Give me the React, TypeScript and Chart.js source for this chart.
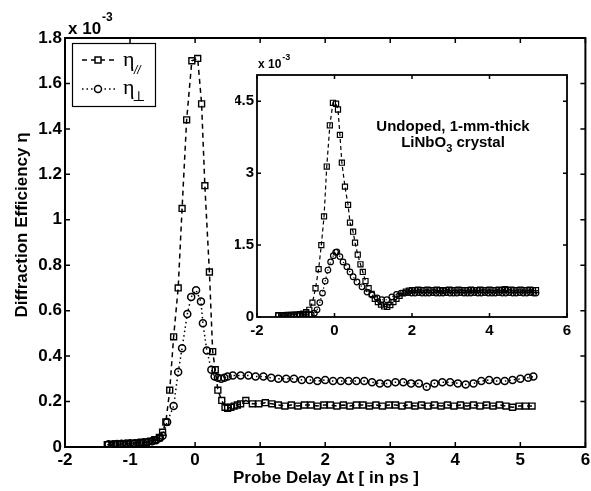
import React, { useEffect, useRef } from 'react';
import { Chart, registerables } from 'chart.js';
Chart.register(...registerables);

// ---------- main panel data (η in units of 1e-3, delay in ps) ----------
const parDelay = [-1.35, -1.28, -1.22, -1.15, -1.08, -1.02, -0.95, -0.88, -0.82, -0.75, -0.68, -0.62, -0.55, -0.5, -0.45, -0.39, -0.33, -0.26, -0.2, -0.13, -0.05, 0.04, 0.1, 0.15, 0.22, 0.27, 0.31, 0.35, 0.41, 0.46, 0.5, 0.55, 0.6, 0.65, 0.7, 0.78, 0.88, 0.98, 1.08, 1.18, 1.28, 1.38, 1.48, 1.58, 1.68, 1.78, 1.88, 1.98, 2.08, 2.18, 2.28, 2.38, 2.48, 2.58, 2.68, 2.78, 2.88, 2.98, 3.08, 3.18, 3.28, 3.38, 3.48, 3.58, 3.68, 3.78, 3.88, 3.98, 4.08, 4.18, 4.28, 4.38, 4.48, 4.58, 4.68, 4.78, 4.88, 4.98, 5.08, 5.18];
const parEta = [0.01, 0.01, 0.012, 0.012, 0.013, 0.014, 0.016, 0.018, 0.02, 0.022, 0.026, 0.032, 0.042, 0.065, 0.11, 0.25, 0.485, 0.7, 1.05, 1.44, 1.7, 1.71, 1.51, 1.15, 0.77, 0.42, 0.34, 0.25, 0.205, 0.175, 0.17, 0.175, 0.18, 0.185, 0.19, 0.205, 0.19, 0.19, 0.195, 0.19, 0.185, 0.18, 0.185, 0.18, 0.185, 0.185, 0.18, 0.185, 0.185, 0.18, 0.185, 0.18, 0.185, 0.185, 0.18, 0.185, 0.18, 0.185, 0.185, 0.18, 0.185, 0.18, 0.185, 0.18, 0.185, 0.18, 0.185, 0.18, 0.185, 0.18, 0.185, 0.18, 0.185, 0.18, 0.185, 0.18, 0.175, 0.18, 0.18, 0.18];

const perpDelay = [-1.33, -1.26, -1.2, -1.13, -1.06, -1.0, -0.93, -0.86, -0.8, -0.73, -0.66, -0.6, -0.54, -0.5, -0.43, -0.33, -0.26, -0.2, -0.12, -0.06, 0.015, 0.09, 0.12, 0.18, 0.25, 0.3, 0.35, 0.4, 0.45, 0.5, 0.58, 0.7, 0.82, 0.93, 1.05, 1.17, 1.28, 1.4, 1.52, 1.64, 1.76, 1.88, 2.0, 2.12, 2.24, 2.36, 2.48, 2.6, 2.72, 2.84, 2.96, 3.08, 3.2, 3.32, 3.44, 3.56, 3.68, 3.8, 3.92, 4.04, 4.16, 4.28, 4.4, 4.52, 4.64, 4.76, 4.88, 5.0, 5.12, 5.2];
const perpEta = [0.012, 0.012, 0.013, 0.014, 0.015, 0.016, 0.017, 0.019, 0.02, 0.022, 0.025, 0.03, 0.04, 0.05, 0.11, 0.18, 0.33, 0.435, 0.585, 0.66, 0.69, 0.64, 0.545, 0.425, 0.34, 0.31, 0.305, 0.3, 0.305, 0.31, 0.315, 0.315, 0.315, 0.31, 0.31, 0.305, 0.3, 0.3, 0.3, 0.295, 0.295, 0.29, 0.295, 0.29, 0.29, 0.29, 0.29, 0.29, 0.285, 0.28, 0.28, 0.285, 0.285, 0.28, 0.28, 0.265, 0.28, 0.285, 0.285, 0.28, 0.275, 0.28, 0.29, 0.295, 0.29, 0.29, 0.295, 0.3, 0.305, 0.31];

// ---------- inset data (undoped crystal) ----------
const insParDelay = [-1.45, -1.37, -1.29, -1.21, -1.13, -1.05, -0.97, -0.89, -0.81, -0.73, -0.65, -0.57, -0.49, -0.41, -0.34, -0.27, -0.2, -0.12, -0.04, 0.04, 0.09, 0.14, 0.19, 0.27, 0.35, 0.4, 0.48, 0.53, 0.6, 0.67, 0.73, 0.8, 0.88, 0.96, 1.04, 1.12, 1.2, 1.28, 1.36, 1.44, 1.52, 1.6, 1.68, 1.76, 1.84, 1.92, 2.0, 2.08, 2.16, 2.24, 2.32, 2.4, 2.48, 2.56, 2.64, 2.72, 2.8, 2.88, 2.96, 3.04, 3.12, 3.2, 3.28, 3.36, 3.44, 3.52, 3.6, 3.68, 3.76, 3.84, 3.92, 4.0, 4.08, 4.16, 4.24, 4.32, 4.4, 4.48, 4.56, 4.64, 4.72, 4.8, 4.88, 4.96, 5.04, 5.12, 5.2];
const insParEta = [0.04, 0.04, 0.04, 0.045, 0.045, 0.05, 0.05, 0.06, 0.07, 0.1, 0.15, 0.3, 0.6, 1.0, 1.5, 2.1, 3.14, 4.0, 4.47, 4.45, 4.33, 3.8, 3.22, 2.72, 2.34, 1.97, 1.78, 1.55, 1.3, 1.1, 0.94, 0.75, 0.6, 0.48, 0.38, 0.31, 0.26, 0.22, 0.21, 0.25, 0.31, 0.38, 0.44, 0.5, 0.53, 0.55, 0.56, 0.56, 0.57, 0.56, 0.56, 0.57, 0.56, 0.56, 0.57, 0.56, 0.55, 0.56, 0.57, 0.56, 0.56, 0.57, 0.56, 0.56, 0.56, 0.57, 0.56, 0.56, 0.57, 0.56, 0.56, 0.57, 0.56, 0.56, 0.57, 0.56, 0.58, 0.56, 0.57, 0.56, 0.56, 0.57, 0.56, 0.56, 0.57, 0.56, 0.56];

const insPerpDelay = [-1.45, -1.37, -1.29, -1.21, -1.13, -1.05, -0.97, -0.89, -0.81, -0.73, -0.65, -0.6, -0.52, -0.45, -0.38, -0.31, -0.24, -0.17, -0.1, -0.03, 0.03, 0.06, 0.14, 0.22, 0.32, 0.4, 0.48, 0.58, 0.71, 0.84, 0.97, 1.1, 1.22, 1.35, 1.48, 1.6, 1.72, 1.81, 1.9, 1.99, 2.08, 2.17, 2.26, 2.35, 2.44, 2.53, 2.62, 2.71, 2.8, 2.89, 2.98, 3.07, 3.16, 3.25, 3.34, 3.43, 3.52, 3.61, 3.7, 3.79, 3.88, 3.97, 4.06, 4.15, 4.24, 4.33, 4.42, 4.51, 4.6, 4.69, 4.78, 4.87, 4.96, 5.05, 5.14, 5.2];
const insPerpEta = [0.03, 0.03, 0.03, 0.035, 0.035, 0.04, 0.04, 0.045, 0.045, 0.05, 0.05, 0.05, 0.08, 0.15, 0.3, 0.5, 0.75, 0.98, 1.15, 1.28, 1.35, 1.36, 1.26, 1.15, 1.05, 0.94, 0.84, 0.73, 0.63, 0.52, 0.46, 0.4, 0.36, 0.36, 0.42, 0.47, 0.5, 0.5, 0.51, 0.5, 0.5, 0.51, 0.5, 0.5, 0.5, 0.51, 0.5, 0.5, 0.5, 0.51, 0.5, 0.5, 0.5, 0.51, 0.5, 0.5, 0.5, 0.51, 0.5, 0.5, 0.51, 0.5, 0.5, 0.5, 0.51, 0.5, 0.5, 0.51, 0.5, 0.5, 0.51, 0.5, 0.5, 0.51, 0.5, 0.5];

// ---------- ticks ----------
const mainXTicks = [-2, -1, 0, 1, 2, 3, 4, 5, 6];
const mainYTicks = [0, 0.2, 0.4, 0.6, 0.8, 1.0, 1.2, 1.4, 1.6, 1.8];
const insetXTicks = [-2, 0, 2, 4, 6];
const insetYTicks = [0, 1.5, 3, 4.5];

const SANS = "'Liberation Sans', Arial, Helvetica, sans-serif";
const SERIF = "'Liberation Serif', 'DejaVu Serif', serif";

const pts = (xs: number[], ys: number[]) => xs.map((x, i) => ({ x, y: ys[i] }));

function framePlugin(tickLen: number, frameW: number, fillWhite: boolean) {
  return {
    id: 'frame',
    beforeDraw(chart: any) {
      if (!fillWhite) return;
      const { ctx, chartArea: a } = chart;
      ctx.save();
      ctx.fillStyle = '#fff';
      ctx.fillRect(a.left, a.top, a.right - a.left, a.bottom - a.top);
      ctx.restore();
    },
    afterDraw(chart: any) {
      const { ctx, chartArea: a, scales } = chart;
      ctx.save();
      ctx.strokeStyle = '#000';
      ctx.setLineDash([]);
      ctx.lineWidth = 1.5;
      ctx.beginPath();
      scales.x.ticks.forEach((t: any) => {
        const p = scales.x.getPixelForValue(t.value);
        ctx.moveTo(p, a.bottom); ctx.lineTo(p, a.bottom - tickLen);
        ctx.moveTo(p, a.top); ctx.lineTo(p, a.top + tickLen);
      });
      scales.y.ticks.forEach((t: any) => {
        const p = scales.y.getPixelForValue(t.value);
        ctx.moveTo(a.left, p); ctx.lineTo(a.left + tickLen, p);
        ctx.moveTo(a.right, p); ctx.lineTo(a.right - tickLen, p);
      });
      ctx.stroke();
      ctx.lineWidth = frameW;
      ctx.strokeRect(a.left, a.top, a.right - a.left, a.bottom - a.top);
      ctx.restore();
    },
  };
}

const mainDecor = {
  id: 'mainDecor',
  afterDraw(chart: any) {
    const { ctx } = chart;
    ctx.save();
    ctx.fillStyle = '#000';
    ctx.strokeStyle = '#000';
    // exponent
    ctx.textAlign = 'left';
    ctx.textBaseline = 'alphabetic';
    ctx.font = `bold 17px ${SANS}`;
    ctx.fillText('x 10', 68, 34);
    const w = ctx.measureText('x 10').width;
    ctx.font = `bold 12px ${SANS}`;
    ctx.fillText('-3', 68 + w + 1, 21);
    // axis titles
    ctx.font = `bold 17px ${SANS}`;
    ctx.textAlign = 'center';
    ctx.textBaseline = 'middle';
    ctx.fillText('Probe Delay \u0394t [ in ps ]', 326, 478);
    ctx.save();
    ctx.translate(22, 225);
    ctx.rotate(-Math.PI / 2);
    ctx.fillText('Diffraction Efficiency \u03b7', 0, 0);
    ctx.restore();
    // legend
    ctx.fillStyle = '#fff';
    ctx.fillRect(72, 43, 83, 63);
    ctx.lineWidth = 1.2;
    ctx.strokeRect(72.5, 43.5, 83, 63);
    ctx.fillStyle = '#000';
    ctx.lineWidth = 1.5;
    ctx.setLineDash([5, 4]);
    ctx.beginPath(); ctx.moveTo(82, 60); ctx.lineTo(115, 60); ctx.stroke();
    ctx.setLineDash([]);
    ctx.fillStyle = '#fff';
    ctx.fillRect(95, 57, 6, 6);
    ctx.strokeRect(95, 57, 6, 6);
    ctx.setLineDash([1.5, 3]);
    ctx.beginPath(); ctx.moveTo(82, 89); ctx.lineTo(115, 89); ctx.stroke();
    ctx.setLineDash([]);
    ctx.beginPath(); ctx.arc(98, 89, 3.5, 0, Math.PI * 2); ctx.fillStyle = '#fff'; ctx.fill(); ctx.stroke();
    ctx.fillStyle = '#000';
    ctx.textAlign = 'left';
    ctx.textBaseline = 'alphabetic';
    ctx.font = `22px ${SERIF}`;
    ctx.fillText('\u03b7', 123, 66);
    ctx.fillText('\u03b7', 123, 94);
    ctx.font = `italic 12px ${SANS}`;
    ctx.fillText('//', 134, 74);
    ctx.font = `14px ${SERIF}`;
    ctx.fillText('\u22a5', 132, 101);
    ctx.restore();
  },
};

const insetDecor = {
  id: 'insetDecor',
  afterDraw(chart: any) {
    const { ctx } = chart;
    ctx.save();
    ctx.fillStyle = '#000';
    ctx.textAlign = 'left';
    ctx.textBaseline = 'alphabetic';
    ctx.font = `bold 12px ${SANS}`;
    ctx.fillText('x 10', 23, 23);
    const w = ctx.measureText('x 10').width;
    ctx.font = `bold 9px ${SANS}`;
    ctx.fillText('-3', 23 + w + 1, 15);
    // annotation
    const big = `bold 15px ${SANS}`;
    const sub = `bold 11px ${SANS}`;
    ctx.font = big;
    ctx.textAlign = 'center';
    ctx.fillText('Undoped, 1-mm-thick', 218, 86);
    ctx.textAlign = 'left';
    const a = 'LiNbO', c = ' crystal';
    const wa = ctx.measureText(a).width;
    const wc = ctx.measureText(c).width;
    ctx.font = sub;
    const wb = ctx.measureText('3').width;
    const start = 218 - (wa + wb + wc) / 2;
    ctx.font = big;
    ctx.fillText(a, start, 102);
    ctx.font = sub;
    ctx.fillText('3', start + wa, 107);
    ctx.font = big;
    ctx.fillText(c, start + wa + wb, 102);
    ctx.restore();
  },
};

function baseScales(
  xMin: number, xMax: number, xTicks: number[], yMin: number, yMax: number, yTicks: number[],
  fontSize: number, xHeight: number, yWidth: number, xPad: number, yPad: number
) {
  const tickFont = { family: SANS, size: fontSize, weight: 'bold' as const };
  return {
    x: {
      type: 'linear' as const,
      min: xMin, max: xMax,
      afterBuildTicks: (s: any) => { s.ticks = xTicks.map((v) => ({ value: v })); },
      ticks: { font: tickFont, color: '#000', padding: xPad, maxRotation: 0, autoSkip: false, callback: (v: any) => String(v) },
      grid: { display: false, drawTicks: false },
      border: { display: false },
      afterFit: (s: any) => { s.height = xHeight; s.paddingLeft = 0; s.paddingRight = 0; },
    },
    y: {
      type: 'linear' as const,
      min: yMin, max: yMax,
      afterBuildTicks: (s: any) => { s.ticks = yTicks.map((v) => ({ value: v })); },
      ticks: { font: tickFont, color: '#000', padding: yPad, autoSkip: false, callback: (v: any) => String(Math.round(v * 10) / 10) },
      grid: { display: false, drawTicks: false },
      border: { display: false },
      afterFit: (s: any) => { s.width = yWidth; s.paddingTop = 0; s.paddingBottom = 0; },
    },
  };
}

export default function App() {
  const mainRef = useRef<HTMLCanvasElement>(null);
  const insetRef = useRef<HTMLCanvasElement>(null);

  useEffect(() => {
    const main = new Chart(mainRef.current as HTMLCanvasElement, {
      type: 'line',
      data: {
        datasets: [
          {
            data: pts(parDelay, parEta),
            borderColor: '#000', borderWidth: 1.5, borderDash: [5, 4],
            pointStyle: 'rect', pointRadius: 4.2, pointBorderWidth: 1.4,
            pointBackgroundColor: 'rgba(0,0,0,0)', pointBorderColor: '#000', tension: 0,
          },
          {
            data: pts(perpDelay, perpEta),
            borderColor: '#000', borderWidth: 1.5, borderDash: [1.5, 3],
            pointStyle: 'circle', pointRadius: 3.5, pointBorderWidth: 1.5,
            pointBackgroundColor: 'rgba(0,0,0,0)', pointBorderColor: '#000', tension: 0,
          },
        ],
      },
      options: {
        responsive: false, animation: false, devicePixelRatio: 1,
        layout: { padding: { top: 38, right: 4, left: 0, bottom: 0 } },
        plugins: { legend: { display: false }, tooltip: { enabled: false } },
        scales: baseScales(-2, 6, mainXTicks, 0, 1.8, mainYTicks, 17, 44, 65, 3, 3) as any,
      },
      plugins: [framePlugin(5, 2, false), mainDecor],
    });

    const inset = new Chart(insetRef.current as HTMLCanvasElement, {
      type: 'line',
      data: {
        datasets: [
          {
            data: pts(insParDelay, insParEta),
            borderColor: '#000', borderWidth: 1.2, borderDash: [4, 3],
            pointStyle: 'rect', pointRadius: 3.6, pointBorderWidth: 1.2,
            pointBackgroundColor: 'rgba(0,0,0,0)', pointBorderColor: '#000', tension: 0,
          },
          {
            data: pts(insPerpDelay, insPerpEta),
            borderColor: '#000', borderWidth: 1.2, borderDash: [1.2, 2.5],
            pointStyle: 'circle', pointRadius: 2.8, pointBorderWidth: 1.2,
            pointBackgroundColor: 'rgba(0,0,0,0)', pointBorderColor: '#000', tension: 0,
          },
        ],
      },
      options: {
        responsive: false, animation: false, devicePixelRatio: 1,
        layout: { padding: { top: 30, right: 13, left: 0, bottom: 0 } },
        plugins: { legend: { display: false }, tooltip: { enabled: false } },
        scales: baseScales(-2, 6, insetXTicks, 0, 5.05, insetYTicks, 15, 28, 22, 5, 3) as any,
      },
      plugins: [framePlugin(4, 1.8, true), insetDecor],
    });

    return () => { main.destroy(); inset.destroy(); };
  }, []);

  return (
    <div style={{ position: 'fixed', left: 0, top: 0, width: 591, height: 491, background: '#fff' }}>
      <canvas ref={mainRef} width={591} height={491} style={{ position: 'absolute', left: 0, top: 0, width: 591, height: 491 }} />
      <canvas ref={insetRef} width={345} height={300} style={{ position: 'absolute', left: 235, top: 45, width: 345, height: 300 }} />
    </div>
  );
}
